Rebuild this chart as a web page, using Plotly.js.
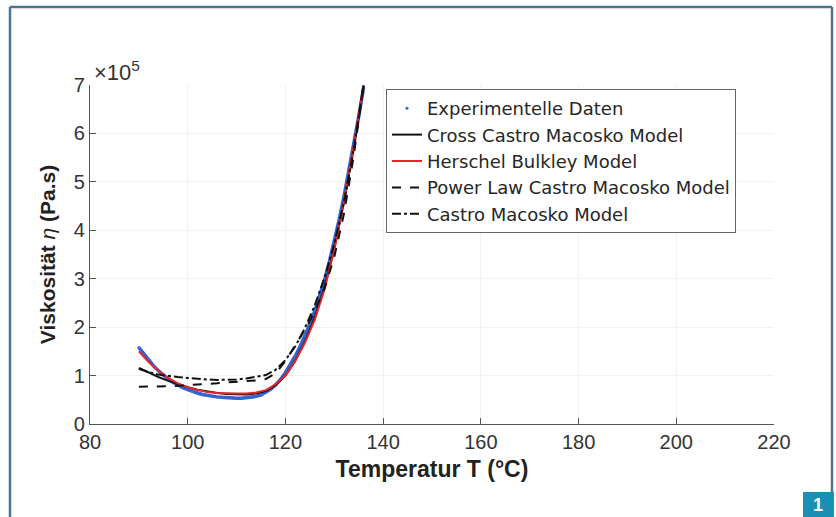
<!DOCTYPE html>
<html>
<head>
<meta charset="utf-8">
<script src="https://cdn.plot.ly/plotly-3.0.1.min.js"></script>
<style>
  html, body { margin: 0; padding: 0; background: #fff; }
  #chart { width: 836px; height: 517px; }
</style>
</head>
<body>
<div id="chart"></div>
<script>
// ---- Data (viscosity in units of 1e5 Pa.s) ----
const expT = [90,91,92,93,94,95,96,97,98,99,100,101,102,103,104,105,106,107,108,109,110,111,112,113,114,115,116,117,118,119,120,121,122,123,124,125,126,127,128,129,130,131,132,133,134,135,136];
const expEta = [1.58,1.45,1.32,1.20,1.10,1.01,0.93,0.86,0.80,0.75,0.71,0.67,0.64,0.61,0.59,0.57,0.56,0.55,0.54,0.54,0.53,0.53,0.54,0.55,0.57,0.60,0.65,0.72,0.81,0.92,1.06,1.22,1.40,1.60,1.82,2.06,2.33,2.63,2.97,3.35,3.77,4.22,4.70,5.22,5.77,6.35,6.95];

const modelT = [90,92,94,96,98,100,102,104,106,108,110,112,114,116,118,120,122,124,126,128,130,132,134,136];
const crossCastroMacosko = [1.16,1.06,0.97,0.89,0.82,0.76,0.71,0.67,0.64,0.62,0.61,0.61,0.63,0.68,0.80,1.00,1.30,1.70,2.20,2.82,3.62,4.60,5.72,7.00];
const herschelBulkley   = [1.50,1.28,1.10,0.95,0.84,0.76,0.70,0.66,0.64,0.63,0.63,0.63,0.65,0.70,0.82,1.00,1.30,1.68,2.15,2.78,3.60,4.60,5.75,7.00];
const powerLawCM        = [0.77,0.77,0.77,0.78,0.79,0.80,0.81,0.83,0.84,0.86,0.87,0.88,0.90,0.93,1.05,1.30,1.62,1.95,2.32,2.80,3.45,4.35,5.55,7.00];
const castroMacosko     = [1.14,1.07,1.02,0.99,0.97,0.95,0.93,0.92,0.91,0.91,0.92,0.94,0.97,1.01,1.12,1.32,1.60,1.98,2.45,3.02,3.72,4.58,5.68,7.00];

const seriesNames = ["Experimentelle Daten","Cross Castro Macosko Model","Herschel Bulkley Model","Power Law Castro Macosko Model","Castro Macosko Model"];
const xTicks = [80,100,120,140,160,180,200,220];
const yTicks = [0,1,2,3,4,5,6,7];

// ---- Geometry helpers (pixel -> paper) ----
const W = 836, H = 517, ML = 90, MR = 62, MT = 85, MB = 93;
const PW = W - ML - MR, PH = H - MT - MB;
const px = v => (v - ML) / PW;
const py = v => (H - MB - v) / PH;

const FONT = "Liberation Sans, Arial, sans-serif";
const frameCol = "#50748a";

const traces = [
  { x: expT, y: expEta, mode: "lines", line: {color: "#2f5fd0", width: 3.5},
    showlegend: false, legendgroup: "exp", hoverinfo: "skip" },
  { x: expT, y: expEta, mode: "markers", name: seriesNames[0], legendgroup: "exp",
    marker: {color: "#3a68d4", size: 3} },
  { x: modelT, y: crossCastroMacosko, mode: "lines", name: seriesNames[1],
    line: {color: "#111111", width: 2} },
  { x: modelT, y: herschelBulkley, mode: "lines", name: seriesNames[2],
    line: {color: "#e8252a", width: 2} },
  { x: modelT, y: powerLawCM, mode: "lines", name: seriesNames[3],
    line: {color: "#111111", width: 2, dash: "dash"} },
  { x: modelT, y: castroMacosko, mode: "lines", name: seriesNames[4],
    line: {color: "#111111", width: 2, dash: "dashdot"} }
];

const layout = {
  width: W, height: H,
  margin: {l: ML, r: MR, t: MT, b: MB, pad: 0},
  paper_bgcolor: "#ffffff", plot_bgcolor: "#ffffff",
  font: {family: FONT, color: "#333333", size: 20},
  showlegend: true,
  legend: {
    x: px(386), y: py(89), xanchor: "left", yanchor: "top",
    bgcolor: "#ffffff", bordercolor: "#666666", borderwidth: 1,
    font: {family: "DejaVu Sans, sans-serif", size: 18, color: "#262626"},
    tracegroupgap: 0, itemwidth: 30
  },
  xaxis: {
    range: [80, 220], tickvals: xTicks, ticktext: xTicks.map(String),
    ticks: "inside", ticklen: 6, tickcolor: "#555555",
    showline: true, linecolor: "#555555", linewidth: 1.2, mirror: false,
    showgrid: true, gridcolor: "#f1f1f1", zeroline: false,
    tickfont: {family: FONT, size: 20, color: "#333333"},
    title: {text: "<b>Temperatur T (°C)</b>", font: {family: FONT, size: 23, color: "#222222"}, standoff: 8}
  },
  yaxis: {
    range: [0, 7], tickvals: yTicks, ticktext: yTicks.map(String),
    ticks: "inside", ticklen: 6, tickcolor: "#555555",
    showline: true, linecolor: "#555555", linewidth: 1.2, mirror: false,
    showgrid: true, gridcolor: "#f1f1f1", zeroline: false,
    tickfont: {family: FONT, size: 20, color: "#333333"},
    title: {text: "<b>Viskosität</b> <i>η</i> <b>(Pa.s)</b>", font: {family: FONT, size: 21, color: "#222222"}, standoff: 12}
  },
  shapes: [
    {type: "line", xref: "paper", yref: "paper", x0: px(10), x1: px(10), y0: py(7), y1: py(517), line: {color: frameCol, width: 2.5}},
    {type: "line", xref: "paper", yref: "paper", x0: px(10), x1: px(832), y0: py(7), y1: py(7), line: {color: frameCol, width: 2.5}},
    {type: "line", xref: "paper", yref: "paper", x0: px(832), x1: px(832), y0: py(7), y1: py(492), line: {color: frameCol, width: 2.5}},
    {type: "rect", xref: "paper", yref: "paper", x0: px(803), x1: px(834), y0: py(492), y1: py(517), fillcolor: "#1b8fb4", line: {width: 0}}
  ],
  annotations: [
    {xref: "paper", yref: "paper", x: px(92), y: py(71), xanchor: "left", yanchor: "middle",
     text: "×10<sup>5</sup>", showarrow: false, font: {family: FONT, size: 22, color: "#333333"}},
    {xref: "paper", yref: "paper", x: px(818), y: py(505), xanchor: "center", yanchor: "middle",
     text: "<b>1</b>", showarrow: false, font: {family: FONT, size: 18, color: "#ffffff"}}
  ]
};

Plotly.newPlot("chart", traces, layout, {displayModeBar: false, staticPlot: true});
</script>
</body>
</html>
